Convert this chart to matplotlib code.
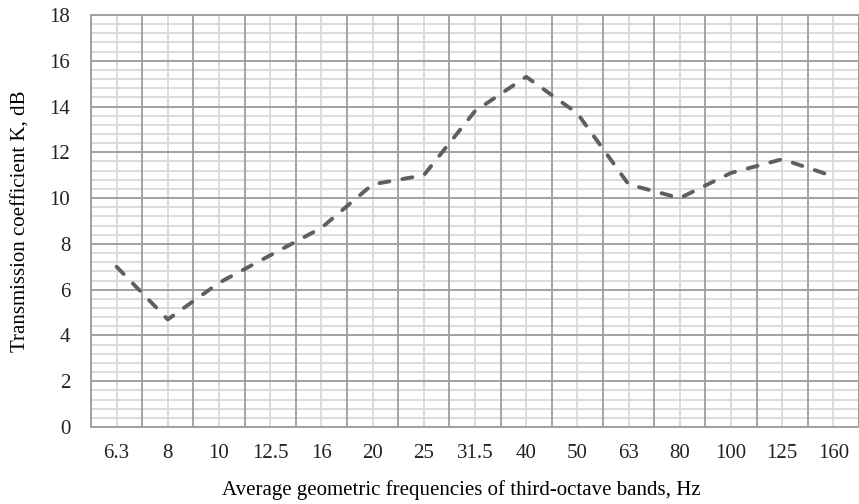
import matplotlib
matplotlib.use("Agg")
import matplotlib.pyplot as plt
import numpy as np

bands = ["6.3", "8", "10", "12.5", "16", "20", "25", "31.5", "40",
         "50", "63", "80", "100", "125", "160"]
k_values = [7.0, 4.7, 6.3, 7.5, 8.7, 10.6, 11.0, 13.8, 15.3,
            13.7, 10.6, 10.0, 11.1, 11.7, 10.95]

plt.rcParams["font.family"] = ["Liberation Serif", "DejaVu Serif"]

fig = plt.figure(figsize=(8.59, 5.04), dpi=100)
ax = fig.add_axes([91 / 859, 1 - 427 / 504, 1 - 91 / 859, 412 / 504])

x = np.arange(len(bands))
ax.plot(x, k_values, color="#5f5f5f", linewidth=2.8, linestyle=(0, (2.6, 3.4)),
        dash_capstyle="round", solid_joinstyle="round", zorder=3)

ax.set_xlim(-0.5, len(bands) - 0.5)
ax.set_ylim(0, 18)

ax.set_xticks(x)
ax.set_xticklabels(bands)
ax.set_yticks(np.arange(0, 19, 2))

# light grid on category centres and every 0.4 dB, darker on boundaries / 2 dB
for xv in x:
    ax.axvline(xv, color="#d9d9d9", linewidth=1.3, zorder=1)
for yv in np.arange(0, 18.01, 0.4):
    ax.axhline(yv, color="#d9d9d9", linewidth=1.3, zorder=1)
for xv in np.arange(-0.5, len(bands), 1.0):
    ax.axvline(xv, color="#9d9d9d", linewidth=1.3, zorder=2)
for yv in np.arange(0, 19, 2):
    ax.axhline(yv, color="#9d9d9d", linewidth=1.3, zorder=2)

for side in ax.spines.values():
    side.set_color("#9d9d9d")
    side.set_linewidth(1.3)

ax.tick_params(axis="both", which="both", length=0, labelsize=15, colors="#222222")
ax.tick_params(axis="y", pad=15)
ax.tick_params(axis="x", pad=12)

ax.set_xlabel("Average geometric frequencies of third-octave bands, Hz",
              fontsize=15, labelpad=8)
ax.xaxis.set_label_coords(0.482, -0.13)
ax.set_ylabel("Transmission coefficient K, dB", fontsize=15)
ax.yaxis.set_label_coords(-0.079, 0.5)

fig.savefig("out.png", dpi=100)
